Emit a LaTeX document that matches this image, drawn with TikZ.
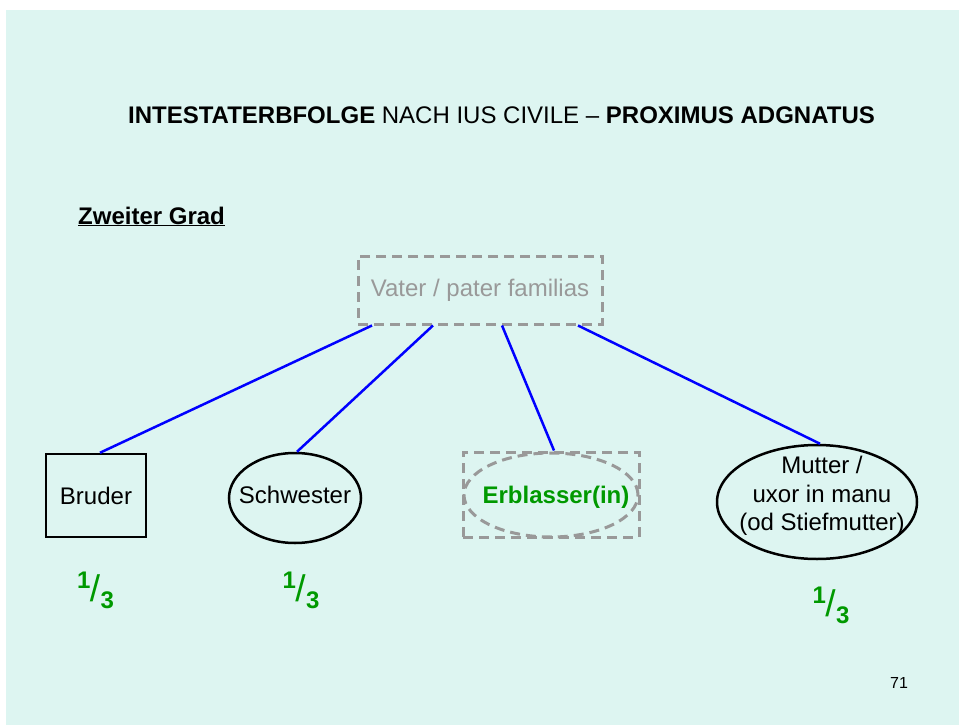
\documentclass[tikz,border=0pt]{standalone}
\usepackage{fontspec}
\setmainfont{Liberation Sans}
\usetikzlibrary{shapes.geometric,calc}
\definecolor{bgcyan}{RGB}{221,245,241}
\definecolor{fracgreen}{RGB}{0,153,0}
\definecolor{dashgray}{RGB}{153,153,153}
\newcommand\thirdfrac{{\fontsize{24}{24}\selectfont\bfseries\raisebox{13pt}{1}\kern-0.5pt{\mdseries\fontsize{37}{37}\selectfont /}\kern0.5pt\raisebox{-7pt}{3}}}
\begin{document}
\begin{tikzpicture}[x=1pt,y=-1pt,
  every node/.style={font=\fontsize{24}{28.5}\selectfont},
  txt/.style={inner sep=0pt, anchor=base},
  person/.style={draw=black, line width=2.5pt, inner sep=0pt},
  dashbox/.style={draw=dashgray, line width=3pt, dash pattern=on 10pt off 6pt, inner sep=0pt},
  link/.style={draw=blue, line width=2.5pt},
  frac/.style={txt, text=fracgreen}
]
\useasboundingbox (0,0) rectangle (959,725);
\fill[bgcyan] (6,10) rectangle (959,725);

\node[txt] (title) at (501.5,124) {\textbf{INTESTATERBFOLGE} NACH IUS CIVILE – \textbf{PROXIMUS ADGNATUS}};
\node[txt, anchor=base west] (grad) at (78,224) {\textbf{\underline{Zweiter Grad}}};

\node[dashbox, minimum width=244pt, minimum height=68pt, text=dashgray] (vater) at (480,290) {Vater / pater familias};

\node[person, rectangle, minimum width=100pt, minimum height=83pt] (bruder) at (96,495.5) {Bruder};
\node[person, ellipse, minimum width=132pt, minimum height=90pt] (schw) at (295,498) {};
\node[txt] (schwtxt) at (295,503) {Schwester};
\node[dashbox, rectangle, minimum width=176pt, minimum height=85pt] (erb) at (551,494.5) {};
\node[dashbox, ellipse, minimum width=174pt, minimum height=84pt] (erbell) at (551,495) {};
\node[txt, text=fracgreen] (erbtxt) at (556,503) {\textbf{Erblasser(in)}};
\node[person, ellipse, minimum width=200pt, minimum height=114pt] (mutter) at (817,502) {};
\node[inner sep=0pt, align=center] (muttxt) at (822,496) {Mutter /\\uxor in manu\\(od Stiefmutter)};

\draw[link] ([xshift=-108pt]vater.south) -- ([xshift=4pt]bruder.north);
\draw[link] ([xshift=-47pt]vater.south) -- ([xshift=2pt]schw.north);
\draw[link] ([xshift=22pt]vater.south) -- ([xshift=3pt]erb.north);
\draw[link] ([xshift=98pt]vater.south) -- ([xshift=3pt]mutter.north);

\node[frac] (f1) at (95.5,601) {\thirdfrac};
\node[frac] (f2) at (301,601) {\thirdfrac};
\node[frac] (f3) at (831,616) {\thirdfrac};

\node[txt, font=\fontsize{16}{18}\selectfont] (page) at (899,688) {71};
\end{tikzpicture}
\end{document}
